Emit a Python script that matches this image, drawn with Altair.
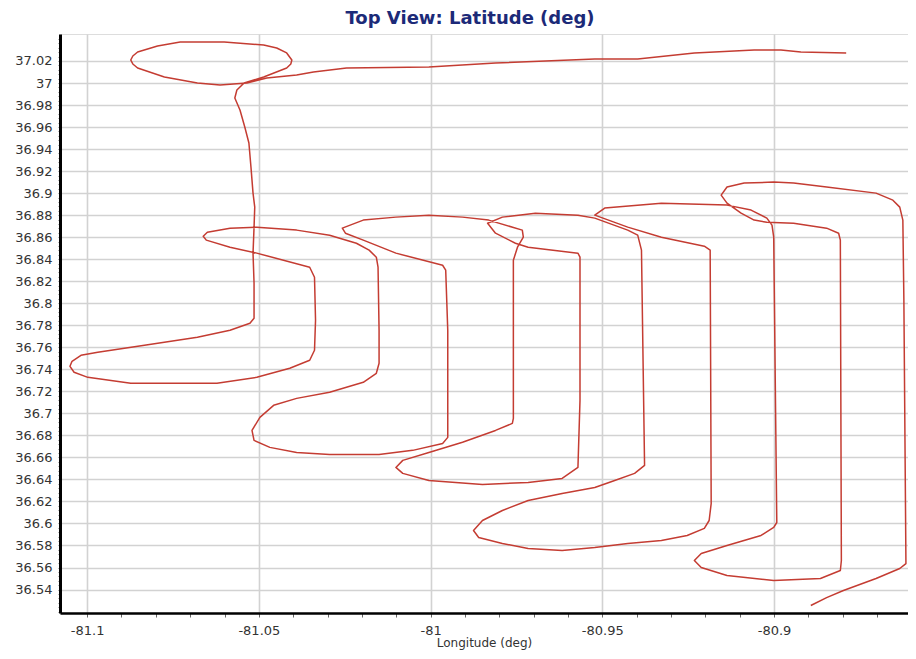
import altair as alt
import pandas as pd

# Flight track (longitude / latitude in degrees)
lon = [-80.8790, -80.8922, -80.8980, -80.9058, -80.9232, -80.9397, -80.9522, -80.9811, -81.0005, -81.0245,
       -81.0341, -81.0390, -81.0477, -81.0535, -81.0613, -81.0679, -81.0775, -81.0853, -81.0867, -81.0873,
       -81.0867, -81.0853,
       -81.0795, -81.0729, -81.0601, -81.0486, -81.0448, -81.0419, -81.0404, -81.0407, -81.0419, -81.0486,
       -81.0543, -81.0564,
       -81.0570, -81.0555, -81.0541, -81.0529, -81.0523, -81.0517, -81.0512, -81.0514, -81.0517, -81.0514,
       -81.0514, -81.0526, -81.0584, -81.0679, -81.0833, -81.0969, -81.1018, -81.1044, -81.1050, -81.1038,
       -81.0998, -81.0873, -81.0622, -81.0506, -81.0410, -81.0352, -81.0338, -81.0335, -81.0338, -81.0352,
       -81.0506, -81.0584, -81.0653, -81.0662, -81.0650, -81.0584, -81.0506, -81.0390, -81.0294, -81.0216,
       -81.0179, -81.0158, -81.0153, -81.0150, -81.0150, -81.0158, -81.0196, -81.0294, -81.0390, -81.0457,
       -81.0497, -81.0520, -81.0514, -81.0468, -81.0390, -81.0294, -81.0150, -81.0052, -80.9965, -80.9950,
       -80.9950, -80.9956, -80.9965, -81.0101, -81.0196, -81.0248, -81.0257, -81.0196, -81.0101, -81.0005,
       -80.9907, -80.9831, -80.9733, -80.9730, -80.9747, -80.9759, -80.9759, -80.9762, -80.9811, -80.9907,
       -81.0005, -81.0081, -81.0101, -81.0081, -81.0005, -80.9849, -80.9716, -80.9617, -80.9571, -80.9565,
       -80.9565, -80.9571, -80.9716, -80.9753, -80.9811, -80.9834, -80.9791, -80.9695, -80.9571, -80.9522,
       -80.9426, -80.9397, -80.9386, -80.9377, -80.9406, -80.9464, -80.9522, -80.9617, -80.9716, -80.9791,
       -80.9849, -80.9875, -80.9860, -80.9791, -80.9716, -80.9617, -80.9522, -80.9426, -80.9328, -80.9253,
       -80.9203, -80.9189, -80.9183, -80.9186, -80.9203, -80.9328, -80.9426, -80.9522, -80.9493, -80.9328,
       -80.9137, -80.9067, -80.9021, -80.9006, -80.9001, -80.8992, -80.9001, -80.9038, -80.9137, -80.9212,
       -80.9232, -80.9212, -80.9137, -80.9001, -80.8865, -80.8807, -80.8804, -80.8807, -80.8812, -80.8847,
       -80.8943, -80.9021, -80.9058, -80.9096, -80.9137, -80.9154, -80.9137, -80.9087, -80.9001, -80.8943,
       -80.8847, -80.8703, -80.8654, -80.8634, -80.8625, -80.8622, -80.8616, -80.8634, -80.8703, -80.8798,
       -80.8847, -80.8893]

lat = [37.0273, 37.0282, 37.0300, 37.0300, 37.0273, 37.0218, 37.0218, 37.0182, 37.0145, 37.0136,
       37.0100, 37.0073, 37.0045, 37.0000, 36.9982, 37.0000, 37.0055, 37.0136, 37.0173, 37.0209,
       37.0245, 37.0282,
       37.0336, 37.0373, 37.0373, 37.0345, 37.0318, 37.0273, 37.0209, 37.0173, 37.0136, 37.0055,
       37.0000, 36.9936,
       36.9864, 36.9755, 36.9600, 36.9455, 36.9236, 36.9000, 36.8873, 36.8691, 36.8455, 36.8182,
       36.7864, 36.7818, 36.7755, 36.7691, 36.7618, 36.7555, 36.7527, 36.7473, 36.7427, 36.7373,
       36.7327, 36.7273, 36.7273, 36.7327, 36.7409, 36.7482, 36.7573, 36.7845, 36.8236, 36.8327,
       36.8455, 36.8509, 36.8573, 36.8609, 36.8645, 36.8682, 36.8691, 36.8664, 36.8618, 36.8545,
       36.8482, 36.8418, 36.8327, 36.7755, 36.7455, 36.7364, 36.7282, 36.7191, 36.7136, 36.7073,
       36.6964, 36.6845, 36.6755, 36.6691, 36.6645, 36.6627, 36.6627, 36.6664, 36.6727, 36.6782,
       36.7755, 36.8300, 36.8345, 36.8455, 36.8573, 36.8636, 36.8682, 36.8755, 36.8782, 36.8800,
       36.8782, 36.8755, 36.8664, 36.8600, 36.8509, 36.8391, 36.6955, 36.6909, 36.6845, 36.6737,
       36.6645, 36.6573, 36.6509, 36.6455, 36.6391, 36.6355, 36.6373, 36.6409, 36.6509, 36.7118,
       36.8418, 36.8455, 36.8509, 36.8545, 36.8636, 36.8727, 36.8782, 36.8818, 36.8800, 36.8773,
       36.8664, 36.8618, 36.8482, 36.6527, 36.6455, 36.6391, 36.6327, 36.6273, 36.6209, 36.6118,
       36.6027, 36.5936, 36.5873, 36.5818, 36.5773, 36.5755, 36.5782, 36.5818, 36.5845, 36.5891,
       36.5955, 36.6027, 36.6182, 36.8482, 36.8518, 36.8600, 36.8691, 36.8800, 36.8864, 36.8909,
       36.8891, 36.8846, 36.8773, 36.8709, 36.8600, 36.6009, 36.5964, 36.5891, 36.5800, 36.5727,
       36.5664, 36.5600, 36.5527, 36.5482, 36.5500, 36.5573, 36.5664, 36.8573, 36.8636, 36.8682,
       36.8727, 36.8736, 36.8755, 36.8818, 36.8909, 36.8982, 36.9055, 36.9091, 36.9100, 36.9091,
       36.9055, 36.9000, 36.8936, 36.8873, 36.8755, 36.8027, 36.5636, 36.5591, 36.5500, 36.5391,
       36.5327, 36.5255]

x_major = [-81.1, -81.05, -81.0, -80.95, -80.9]
x_ticks = [-81.1, -81.09, -81.08, -81.07, -81.06, -81.05, -81.04, -81.03, -81.02, -81.01, -81.0,
           -80.99, -80.98, -80.97, -80.96, -80.95, -80.94, -80.93, -80.92, -80.91, -80.9,
           -80.89, -80.88, -80.87]
y_major = [36.54, 36.56, 36.58, 36.6, 36.62, 36.64, 36.66, 36.68, 36.7, 36.72, 36.74, 36.76,
           36.78, 36.8, 36.82, 36.84, 36.86, 36.88, 36.9, 36.92, 36.94, 36.96, 36.98, 37.0, 37.02]
y_ticks = sorted(set([round(36.52 + 0.004 * i, 3) for i in range(131)] + y_major))

x_domain = [-81.1079, -80.8610]
y_domain = [36.5187, 37.0445]

df = pd.DataFrame({"i": list(range(len(lon))), "lon": lon, "lat": lat})

major_x_test = "abs(datum.value*20 - round(datum.value*20)) < 1e-6"
major_y_test = ("abs(datum.value*50 - round(datum.value*50)) < 1e-6"
                " && datum.value > 36.535 && datum.value < 37.025")

x_axis = alt.Axis(
    values=x_ticks,
    labelExpr=f"({major_x_test}) ? toString(round(datum.value*100)/100) : ''",
    grid=True,
    gridColor="#d2d2d2",
    gridWidth=1.6,
    gridOpacity={"condition": {"test": major_x_test, "value": 1}, "value": 0},
    domainColor="#000000",
    domainWidth=2.5,
    tickColor="#666666",
    tickSize=4,
    labelFont="DejaVu Sans",
    labelFontSize=13,
    labelColor="#333333",
    labelPadding=7,
    labelFlush=False,
    title="Longitude (deg)",
    titleFont="DejaVu Sans",
    titleFontSize=12,
    titleFontWeight="normal",
    titleColor="#333333",
    titlePadding=0,
)

y_axis = alt.Axis(
    values=y_ticks,
    labelExpr=f"({major_y_test}) ? toString(round(datum.value*100)/100) : ''",
    grid=True,
    gridColor="#d2d2d2",
    gridWidth=1.6,
    gridOpacity={"condition": {"test": major_y_test, "value": 1}, "value": 0},
    domainColor="#000000",
    domainWidth=3,
    tickColor="#777777",
    tickSize=2,
    labelFont="DejaVu Sans",
    labelFontSize=13,
    labelColor="#333333",
    labelPadding=6,
    labelFlush=False,
    title=None,
)

chart = (
    alt.Chart(df)
    .mark_line(color="#c43c32", strokeWidth=1.5, clip=True, strokeJoin="round")
    .encode(
        x=alt.X("lon:Q", scale=alt.Scale(domain=x_domain, nice=False, zero=False), axis=x_axis),
        y=alt.Y("lat:Q", scale=alt.Scale(domain=y_domain, nice=False, zero=False), axis=y_axis),
        order="i:Q",
    )
    .properties(
        width=848,
        height=579,
        autosize="none",
        padding={"left": 52, "top": 26, "right": 0, "bottom": 38},
        title=alt.TitleParams(
            "Top View: Latitude (deg)",
            font="DejaVu Sans",
            fontSize=18,
            fontWeight="bold",
            color="#1c2a78",
            anchor="middle",
            dx=-14,
            offset=6,
        ),
    )
    .configure_view(stroke="#8a8a8a", strokeWidth=1.5)
    .configure(background="white")
)

chart.save("out.html", embed_options={"renderer": "svg", "actions": False})
